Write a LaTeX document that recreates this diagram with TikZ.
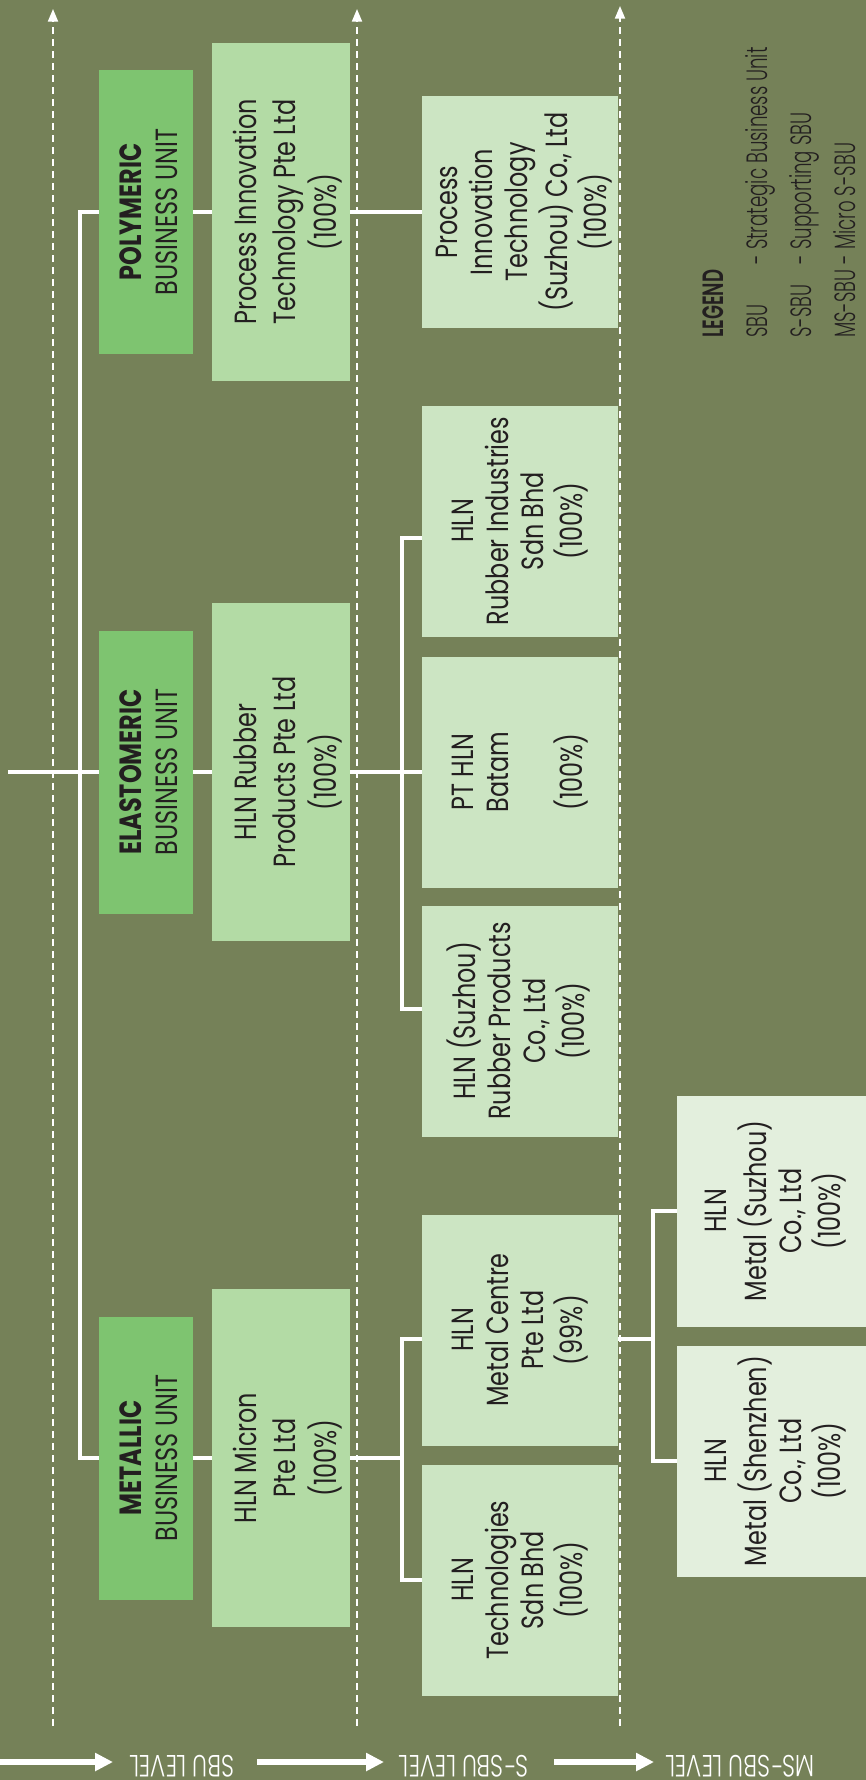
\documentclass[tikz,border=0pt]{standalone}
\usepackage{fontspec}
\setmainfont{Poppins}[BoldFont=* Bold, FakeStretch=0.78]
\newfontfamily\legendfont{Poppins}[UprightFont=* Light, BoldFont=* SemiBold, FakeStretch=0.62]
\newfontfamily\levelfont{Poppins}[UprightFont=* Light, FakeStretch=0.74]
\usepackage{graphicx}
\usetikzlibrary{arrows.meta}
\definecolor{bgolive}{RGB}{117,129,88}
\definecolor{sbugreen}{RGB}{126,196,112}
\definecolor{subgreen}{RGB}{179,219,165}
\definecolor{ssbugreen}{RGB}{204,229,195}
\definecolor{msgreen}{RGB}{227,239,221}
\definecolor{ink}{RGB}{35,31,32}
\newcommand{\vtext}[2][0pt]{\rotatebox{90}{\raisebox{0pt}[\height][\dimexpr\depth-#1\relax]{\begin{tabular}{@{}c@{}}#2\end{tabular}}}}

\begin{document}
\begin{tikzpicture}[x=0.75pt, y=-0.75pt,
  unitbox/.style={inner sep=0pt, text=ink},
  sbubox/.style={unitbox, fill=sbugreen, minimum width=70.5pt, minimum height=212.25pt, font=\fontsize{23}{27.4}\selectfont},
  subbox/.style={unitbox, fill=subgreen, minimum width=103.5pt, minimum height=253.5pt, font=\fontsize{23}{29.5}\selectfont},
  ssbubox/.style={unitbox, fill=ssbugreen, minimum width=147pt, minimum height=173.25pt, font=\fontsize{23}{26.25}\selectfont},
  msbox/.style={unitbox, fill=msgreen, minimum width=141.75pt, minimum height=173.25pt, font=\fontsize{23}{26.25}\selectfont},
  link/.style={white, line width=3.2pt},
  lvldash/.style={white, line width=1.5pt, dash pattern=on 5.5pt off 3.5pt, -{Triangle[length=9.5pt, width=7.5pt]}},
  lvlarrow/.style={white, line width=4pt, -{Triangle[length=13.5pt, width=13pt]}},
  lvltext/.style={white, rotate=180, inner sep=0pt, font=\levelfont\fontsize{23}{23}\selectfont}]
  % ozadje
  \fill [bgolive] (0,0) rectangle (866,1780);
  \useasboundingbox (0,0) rectangle (866,1780);
  % koordinate
  \coordinate (d1b) at (53,1726);  \coordinate (d1t) at (53,9);
  \coordinate (d2b) at (357,1726); \coordinate (d2t) at (357,9);
  \coordinate (d3b) at (620,1726); \coordinate (d3t) at (620,6);
  \coordinate (a1s) at (0,1762);   \coordinate (a1e) at (113,1762);
  \coordinate (a2s) at (257,1762); \coordinate (a2e) at (384,1762);
  \coordinate (a3s) at (554,1762); \coordinate (a3e) at (654,1762);
  \coordinate (in) at (8,772);
  \coordinate (trunk) at (80,772);
  \coordinate (e1) at (402,538);
  \coordinate (e3) at (402,1009);
  \coordinate (m1) at (402,1339);
  \coordinate (m2) at (402,1580);
  \coordinate (mj) at (653,1339);
  % nivoji
  \draw [lvldash] (d1b) -- (d1t);
  \draw [lvldash] (d2b) -- (d2t);
  \draw [lvldash] (d3b) -- (d3t);
  \draw [lvlarrow] (a1s) -- (a1e);
  \draw [lvlarrow] (a2s) -- (a2e);
  \draw [lvlarrow] (a3s) -- (a3e);
  \node (sbulv) [lvltext] at (182,1766) {SBU LEVEL};
  \node (ssbulv) [lvltext] at (464,1766) {S-SBU LEVEL};
  \node (msbulv) [lvltext] at (740,1766) {MS-SBU LEVEL};
  % enote
  \node (polsbu) [sbubox] at (146,212) {\vtext[9pt]{\textbf{POLYMERIC}\\BUSINESS UNIT}};
  \node (elasbu) [sbubox] at (146,772) {\vtext[9pt]{\textbf{ELASTOMERIC}\\BUSINESS UNIT}};
  \node (metsbu) [sbubox] at (146,1458) {\vtext[9pt]{\textbf{METALLIC}\\BUSINESS UNIT}};
  \node (polsub) [subbox] at (281,212) {\vtext[11pt]{Process Innovation\\Technology Pte Ltd\\(100\%)}};
  \node (elasub) [subbox] at (281,772) {\vtext[11pt]{HLN Rubber\\Products Pte Ltd\\(100\%)}};
  \node (micron) [subbox] at (281,1458) {\vtext[11pt]{HLN Micron\\Pte Ltd\\(100\%)}};
  \node (pitsz) [ssbubox] at (520,212) {\vtext[7.5pt]{Process\\Innovation\\Technology\\(Suzhou) Co., Ltd\\(100\%)}};
  \node (indus) [ssbubox] at (520,521) {\vtext[2pt]{HLN\\Rubber Industries\\Sdn Bhd\\(100\%)}};
  \node (batam) [ssbubox] at (520,772) {\vtext[2pt]{PT HLN\\Batam\\~\\(100\%)}};
  \node (rubsz) [ssbubox] at (520,1021) {\vtext[2pt]{HLN (Suzhou)\\Rubber Products\\Co., Ltd\\(100\%)}};
  \node (metc) [ssbubox] at (520,1330) {\vtext[2pt]{HLN\\Metal Centre\\Pte Ltd\\(99\%)}};
  \node (tech) [ssbubox] at (520,1580) {\vtext[2pt]{HLN\\Technologies\\Sdn Bhd\\(100\%)}};
  \node (metsz) [msbox] at (771.5,1211) {\vtext[7.5pt]{HLN\\Metal (Suzhou)\\Co., Ltd\\(100\%)}};
  \node (metsh) [msbox] at (771.5,1461) {\vtext[7.5pt]{HLN\\Metal (Shenzhen)\\Co., Ltd\\(100\%)}};
  % povezave
  \draw [link] (in) -- (elasbu.west);
  \draw [link] (polsbu.west) -| (trunk) |- (metsbu.west);
  \draw [link] (polsbu) -- (polsub);
  \draw [link] (elasbu) -- (elasub);
  \draw [link] (metsbu) -- (micron);
  \draw [link] (polsub) -- (pitsz);
  \draw [link] (elasub) -- (batam);
  \draw [link] (e1 -| indus.west) -- (e1) -- (e3) -- (e3 -| rubsz.west);
  \draw [link] (micron) -- (micron -| m1);
  \draw [link] (m1 -| metc.west) -- (m1) |- (tech.west);
  \draw [link] (m1 -| metc.east) -- (mj);
  \draw [link] (metsz.west) -| (mj) |- (metsh.west);
  % legenda
  \node (legend) [anchor=south west, inner sep=0pt, text=ink,
    font=\legendfont\fontsize{22}{33}\selectfont] at (692,338)
    {\rotatebox{90}{\raisebox{0pt}[\height][0pt]{\begin{tabular}{@{}l@{\ -\ }l@{}}
      \multicolumn{2}{@{}l@{}}{\textbf{LEGEND}}\\
      SBU & Strategic Business Unit\\
      S-SBU & Supporting SBU\\
      MS-SBU & Micro S-SBU
    \end{tabular}}}};
\end{tikzpicture}
\end{document}
